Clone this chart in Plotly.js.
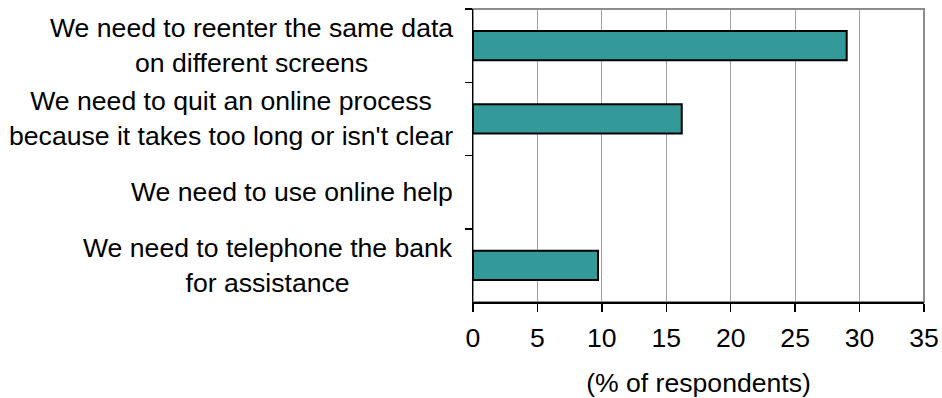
<!DOCTYPE html>
<html>
<head>
<meta charset="utf-8">
<script src="https://cdn.plot.ly/plotly-3.0.1.min.js"></script>
<style>html,body{margin:0;padding:0;background:#fff;}</style>
</head>
<body>
<div id="chart" style="width:942px;height:398px;"></div>
<script>
var categories = [
  "We need to reenter the same data<br>on different screens",
  "We need to quit an online process<br>because it takes too long or isn't clear",
  "We need to use online help",
  "We need to telephone the bank<br>for assistance"
];
var values = [29, 16.2, 0, 9.7];
var xTickVals = [0, 5, 10, 15, 20, 25, 30, 35];
var xTitle = "(% of respondents)";

var FONT = "Liberation Sans, Arial, sans-serif";
var FS = 26.6;

var trace = {
  type: "bar",
  orientation: "h",
  x: values,
  y: categories,
  marker: {
    color: "#339999",
    line: {color: "#000000", width: values.map(function (v) { return v > 0 ? 2 : 0; })}
  },
  hoverinfo: "none"
};

var annotations = categories.map(function (c) {
  return {
    xref: "paper", x: 0, xanchor: "right", xshift: -18,
    yref: "y", y: c, yanchor: "middle",
    text: c, showarrow: false, align: "center",
    font: {family: FONT, size: FS, color: "#000"}
  };
});

var layout = {
  width: 942, height: 398,
  margin: {l: 473, r: 18, t: 9, b: 96},
  paper_bgcolor: "#fff", plot_bgcolor: "#fff",
  showlegend: false,
  bargap: 0.6,
  font: {family: FONT, size: FS, color: "#000"},
  xaxis: {
    range: [0, 35], tickvals: xTickVals, ticktext: xTickVals.map(String),
    ticks: "outside", ticklen: 8, tickwidth: 1.5, tickcolor: "#000",
    ticklabelstandoff: 4,
    showline: true, linecolor: "#000", linewidth: 1.5,
    showgrid: true, gridcolor: "#a0a0a0", gridwidth: 1,
    zeroline: false,
    tickfont: {family: FONT, size: FS, color: "#000"},
    title: {text: xTitle, font: {family: FONT, size: FS, color: "#000"}, standoff: 33}
  },
  yaxis: {
    type: "category", categoryorder: "array", categoryarray: categories,
    autorange: "reversed",
    tickson: "boundaries", ticks: "outside", ticklen: 7, tickwidth: 1.5, tickcolor: "#000",
    showticklabels: false,
    showline: true, linecolor: "#000", linewidth: 1.5,
    showgrid: false, zeroline: false
  },
  shapes: [{
    type: "rect", xref: "paper", yref: "paper", x0: 0, x1: 1, y0: 0, y1: 1,
    line: {color: "#8c8c8c", width: 2}, layer: "below"
  }],
  annotations: annotations
};

Plotly.newPlot("chart", [trace], layout, {displayModeBar: false, staticPlot: true});
</script>
</body>
</html>
